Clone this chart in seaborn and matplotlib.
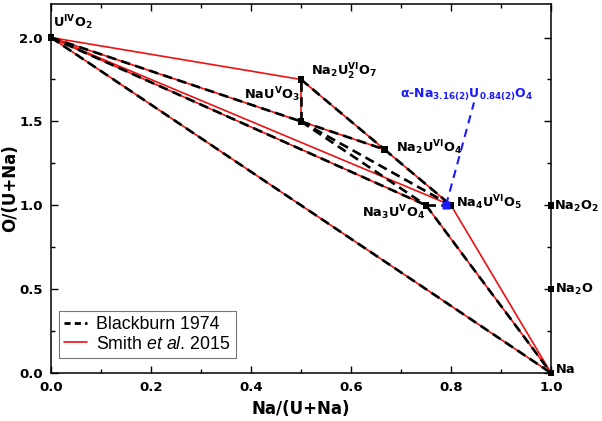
#!/usr/bin/env python3

import matplotlib
matplotlib.use("Agg")
import matplotlib.pyplot as plt
from matplotlib.lines import Line2D
import pandas as pd
import seaborn

# compositions on the Na/(U+Na) vs O/(U+Na) plane
compounds = ["UO2", "NaUO3", "Na2U2O7", "Na2UO4", "Na3UO4", "Na4UO5", "Na", "Na2O", "Na2O2"]
na_frac = [0.0, 0.5, 0.5, 2 / 3, 0.75, 0.8, 1.0, 1.0, 1.0]
o_frac = [2.0, 1.5, 1.75, 4 / 3, 1.0, 1.0, 0.0, 0.5, 1.0]

alpha_na = 0.79
alpha_o = 1.0

ties_blackburn = [("UO2", "NaUO3"), ("UO2", "Na3UO4"), ("UO2", "Na"),
                  ("NaUO3", "Na2U2O7"), ("Na2U2O7", "Na2UO4"), ("Na2UO4", "Na4UO5"),
                  ("NaUO3", "Na2UO4"), ("NaUO3", "Na4UO5"), ("NaUO3", "Na3UO4"),
                  ("Na3UO4", "Na4UO5"), ("Na3UO4", "Na")]
ties_smith = [("UO2", "Na2U2O7"), ("UO2", "NaUO3"), ("NaUO3", "Na2UO4"),
              ("UO2", "Na4UO5"), ("UO2", "Na3UO4"), ("UO2", "Na"),
              ("NaUO3", "Na2U2O7"), ("Na2U2O7", "Na2UO4"), ("Na2UO4", "Na4UO5"),
              ("Na4UO5", "Na"), ("Na3UO4", "Na")]

labels = {
    "UO2": r"$\mathbf{U^{IV}O_2}$",
    "NaUO3": r"$\mathbf{NaU^{V}O_3}$",
    "Na2U2O7": r"$\mathbf{Na_2U^{VI}_2O_7}$",
    "Na2UO4": r"$\mathbf{Na_2U^{VI}O_4}$",
    "Na3UO4": r"$\mathbf{Na_3U^{V}O_4}$",
    "Na4UO5": r"$\mathbf{Na_4U^{VI}O_5}$",
    "Na": r"$\mathbf{Na}$",
    "Na2O": r"$\mathbf{Na_2O}$",
    "Na2O2": r"$\mathbf{Na_2O_2}$",
}
alpha_label = r"α-$\mathbf{Na_{3.16(2)}U_{0.84(2)}O_4}$"


def tie_frame(ties):
    pos = {c: (x, y) for c, x, y in zip(compounds, na_frac, o_frac)}
    rows = []
    for i, (a, b) in enumerate(ties):
        for c in (a, b):
            rows.append({"seg": i, "x": pos[c][0], "y": pos[c][1]})
    return pd.DataFrame(rows)


seaborn.set_style("ticks")
plt.rcParams["font.family"] = ["DejaVu Sans"]
plt.rcParams["mathtext.fontset"] = "custom"
plt.rcParams["mathtext.rm"] = "DejaVu Sans"
plt.rcParams["mathtext.bf"] = "DejaVu Sans:bold"
plt.rcParams["mathtext.it"] = "Liberation Sans:italic"
for key in ["text.color", "axes.labelcolor", "xtick.color", "ytick.color", "axes.edgecolor"]:
    plt.rcParams[key] = "black"

fig = plt.figure(figsize=(6.02, 4.21), dpi=100)
ax = fig.add_axes([0.0847, 0.114, 0.8306, 0.8765])

df_smith = tie_frame(ties_smith)
df_bb = tie_frame(ties_blackburn)

seaborn.lineplot(data=df_smith, x="x", y="y", units="seg", estimator=None, sort=False,
                 color="#ee1111", linewidth=1.2, ax=ax, legend=False)
seaborn.lineplot(data=df_bb, x="x", y="y", units="seg", estimator=None, sort=False,
                 color="black", linewidth=1.9, linestyle=(0, (3.6, 2.0)), ax=ax, legend=False)

df_pts = pd.DataFrame({"x": na_frac, "y": o_frac, "name": compounds})
seaborn.scatterplot(data=df_pts, x="x", y="y", marker="s", s=22, color="black",
                    edgecolor="none", ax=ax, clip_on=False, zorder=5, legend=False)

# alpha phase and its pointer to the label
ax.plot([alpha_na, 0.846], [alpha_o, 1.613], color="#1a1aff", lw=1.5,
        linestyle=(0, (4, 2.8)), zorder=6)
ax.plot([alpha_na], [alpha_o], marker="s", ms=6, color="#1a1aff", mec="none", zorder=7)

label_pos = {
    "UO2": (0.005, 2.06), "Na2U2O7": (0.52, 1.774), "NaUO3": (0.386, 1.63),
    "Na2UO4": (0.69, 1.315), "Na4UO5": (0.81, 0.988), "Na3UO4": (0.622, 0.929),
    "Na2O2": (1.005, 0.974), "Na2O": (1.008, 0.476), "Na": (1.008, 0.0),
}
for c, (lx, ly) in label_pos.items():
    ax.text(lx, ly, labels[c], fontsize=9.3, ha="left", va="baseline", clip_on=False)
ax.text(0.698, 1.643, alpha_label, fontsize=9.0, fontweight="bold", color="#1a1aff",
        ha="left", va="baseline")

ax.set_xlim(0, 1.0)
ax.set_ylim(0, 2.2)
ax.set_xticks([0, 0.2, 0.4, 0.6, 0.8, 1.0])
ax.set_yticks([0, 0.5, 1.0, 1.5, 2.0])
ax.set_xticks([0.1, 0.3, 0.5, 0.7, 0.9], minor=True)
ax.set_yticks([0.25, 0.75, 1.25, 1.75], minor=True)
ax.tick_params(which="both", direction="in", top=True, right=True, width=1.0)
ax.tick_params(which="major", length=5, labelsize=9.5, pad=6)
ax.tick_params(which="minor", length=3)
for lab in ax.get_xticklabels() + ax.get_yticklabels():
    lab.set_fontweight("bold")
for sp in ax.spines.values():
    sp.set_linewidth(1.1)

ax.set_xlabel("Na/(U+Na)", fontsize=12, fontweight="bold", labelpad=4)
ax.set_ylabel("O/(U+Na)", fontsize=12, fontweight="bold", labelpad=0)

handles = [Line2D([], [], color="black", lw=2.0, linestyle=(0, (2.2, 1.5))),
           Line2D([], [], color="#ee1111", lw=1.2)]
leg = ax.legend(handles, ["Blackburn 1974", r"Smith $\it{et\ al}$. 2015"],
                loc="lower left", bbox_to_anchor=(0.016, 0.041), borderaxespad=0,
                fancybox=False, edgecolor="#777777", framealpha=1,
                prop={"family": "Liberation Sans", "size": 12.8},
                handlelength=1.3, handletextpad=0.5, labelspacing=0.12, borderpad=0.3)
leg.get_frame().set_linewidth(0.8)

plt.savefig("out.png", format="png")
